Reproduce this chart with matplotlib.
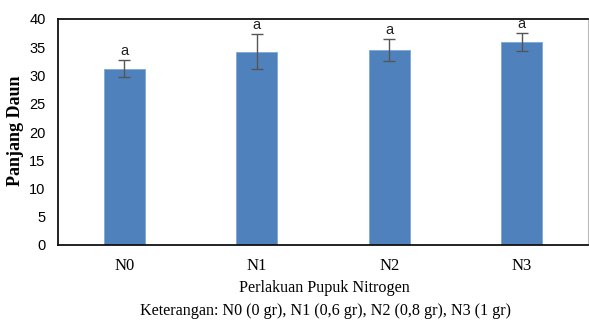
import matplotlib
matplotlib.use("Agg")
import matplotlib.pyplot as plt
from matplotlib import font_manager
import numpy as np

categories = ["N0", "N1", "N2", "N3"]
means = [31.2, 34.2, 34.5, 35.9]
errors = [1.5, 3.1, 2.0, 1.6]
letters = ["a", "a", "a", "a"]

names = {f.name for f in font_manager.fontManager.ttflist}
tick_font = "Liberation Sans Narrow" if "Liberation Sans Narrow" in names else "Liberation Sans"

W, H = 589, 322
fig = plt.figure(figsize=(W / 100, H / 100), dpi=100)
ax = fig.add_axes([58 / W, 1 - 245 / H, 530 / W, (245 - 19) / H])

x = np.arange(len(categories))
ax.bar(x, means, width=0.31, color="#4F81BD", edgecolor="#7EA6D8", linewidth=0.6, zorder=2)
ax.errorbar(x, means, yerr=errors, fmt="none", ecolor="#555555", elinewidth=1.0,
            capsize=4, capthick=1.0, zorder=3)
for xi, m, e, t in zip(x, means, errors, letters):
    ax.text(xi, m + e + 0.4, t, ha="center", va="bottom", fontsize=10.5,
            family=tick_font, color="#222222")

ax.set_xlim(-0.5, len(categories) - 0.5)
ax.set_ylim(0, 40)
ax.set_yticks(range(0, 41, 5))
ax.set_xticks(x)
ax.set_xticklabels(categories, family="Liberation Serif", fontsize=12)
for lab in ax.get_yticklabels():
    lab.set_family(tick_font)
    lab.set_fontsize(10.5)
ax.tick_params(axis="x", length=0, pad=9)
ax.tick_params(axis="y", length=0, pad=9)

for side in ["left", "bottom", "top"]:
    ax.spines[side].set_color("#111111")
    ax.spines[side].set_linewidth(1.3)
ax.spines["right"].set_color("#BBBBBB")
ax.spines["right"].set_linewidth(0.8)

fig.text(16 / W, 1 - 131 / H, "Panjang Daun", rotation=90, ha="center", va="center",
         family="Liberation Serif", fontweight="bold", fontsize=13)
fig.text(324 / W, 1 - 288 / H, "Perlakuan Pupuk Nitrogen", ha="center", va="center",
         family="Liberation Serif", fontsize=11.6)
fig.text(326 / W, 1 - 311 / H, "Keterangan: N0 (0 gr), N1 (0,6 gr), N2 (0,8 gr), N3 (1 gr)",
         ha="center", va="center", family="Liberation Serif", fontsize=11.6)

fig.savefig("out.png", dpi=100)
